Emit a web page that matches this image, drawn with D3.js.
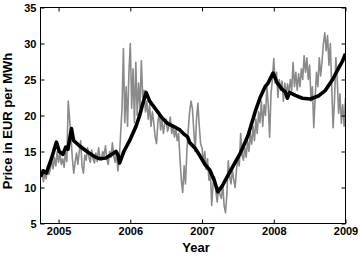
<!DOCTYPE html>
<html>
<head>
<meta charset="utf-8">
<script src="https://cdn.jsdelivr.net/npm/d3@7"></script>
<style>
  html, body { margin: 0; padding: 0; background: #fff; }
  svg text { font-family: "Liberation Sans", Arial, Helvetica, sans-serif; font-weight: bold; fill: #000; }
</style>
</head>
<body>
<svg id="chart" width="360" height="259"></svg>
<script>
// ---- data ----
const yearTicks = [2005, 2006, 2007, 2008, 2009];
const priceTicks = [5, 10, 15, 20, 25, 30, 35];
const xLabel = "Year";
const yLabel = "Price in EUR per MWh";

// weekly spot prices (grey), starting Oct 2004
const spotStart = 2004.75;
const spotStep = 1 / 52;
const spotPrices = [
  11.5, 12.5, 10.8, 12.0, 11.2, 13.0, 11.8, 12.5, 13.8, 12.6,
  14.2, 13.0, 15.0, 13.5, 14.8, 13.2, 14.0, 12.8, 15.0, 13.6,
  22.0, 19.5, 17.0, 14.0, 12.0, 13.5, 14.8, 13.2, 15.0, 16.5,
  13.0, 12.0, 14.5, 13.8, 15.5, 14.2, 13.5, 15.2, 14.0, 13.4,
  14.8, 13.6, 15.5, 14.2, 13.8, 15.0, 14.4, 15.8, 14.0, 13.2,
  15.0, 14.2, 16.2, 14.5, 13.5, 15.0, 12.3, 14.0, 17.5, 21.0,
  29.3, 19.0, 24.0, 18.5, 26.0, 30.0, 21.0, 26.5, 19.0, 27.4,
  20.0, 24.5, 21.0, 27.6, 22.5, 23.5, 20.5, 22.0, 19.5, 21.5,
  18.5, 20.5, 19.0, 17.0, 16.1, 19.0, 20.5, 18.0, 19.5, 17.5,
  18.8, 19.5, 17.8, 18.5, 19.8, 17.5, 18.5, 17.0, 18.2, 16.5,
  17.5, 14.0, 11.0, 9.3, 13.0, 10.5, 15.0, 18.0, 20.5, 22.0,
  21.0, 18.0, 15.0, 19.5, 21.7, 18.5, 16.0, 15.5, 13.5, 15.0,
  12.5, 14.0, 11.0, 12.5, 7.5, 10.5, 11.5, 9.5, 8.0, 10.0,
  9.0, 8.5, 10.5, 7.5, 6.5, 9.0, 13.7, 11.5, 10.5, 12.5,
  11.0, 10.0, 12.5, 14.0, 13.0, 17.5, 14.5, 13.8, 15.5, 14.2,
  16.5, 15.0, 17.5, 16.0, 18.5, 16.5, 19.5, 17.5, 20.5, 19.0,
  22.0, 18.5, 21.5, 20.0, 24.0, 21.5, 17.0, 23.0, 25.0, 27.9,
  24.5, 26.0, 22.5, 25.0, 23.5, 24.8, 22.0, 24.5, 23.0, 24.4,
  23.0, 25.0, 23.5, 27.4, 24.0, 26.0, 23.5, 25.8, 24.0, 26.5,
  25.0, 28.3, 26.0, 28.0, 25.0, 27.0, 22.0, 24.0, 18.3, 22.5,
  26.0, 24.0, 28.0, 25.5, 27.5, 30.0, 31.5, 29.0, 31.1, 27.0,
  30.0, 24.0, 18.3, 22.0, 28.0, 25.0, 20.3, 23.0, 18.9, 21.5,
  18.5, 22.5
];

// smoothed trend (black)
const trendYears = [
  2004.748, 2004.79, 2004.83, 2004.90, 2004.97, 2005.01, 2005.06, 2005.10, 2005.13, 2005.15,
  2005.18, 2005.21, 2005.29, 2005.41, 2005.50, 2005.57, 2005.66, 2005.74, 2005.80, 2005.83,
  2005.85, 2005.91, 2005.99, 2006.08, 2006.13, 2006.17, 2006.22, 2006.27, 2006.36, 2006.44,
  2006.52, 2006.62, 2006.69, 2006.75, 2006.80, 2006.83, 2006.90, 2006.97, 2007.04, 2007.11,
  2007.17, 2007.22, 2007.28, 2007.39, 2007.53, 2007.64, 2007.74, 2007.81, 2007.88, 2007.92,
  2007.99, 2008.05, 2008.12, 2008.16, 2008.19, 2008.22, 2008.30, 2008.40, 2008.51, 2008.62,
  2008.72, 2008.82, 2008.90, 2008.96, 2009.0
];
const trendValues = [
  11.5, 12.3, 12.0, 14.0, 16.3, 15.0, 14.6, 15.6, 15.3, 16.5,
  18.2, 16.5, 15.8, 14.9, 14.3, 14.0, 14.1, 14.6, 15.0, 14.5,
  13.4, 15.0, 16.5, 18.5, 20.0, 21.5, 23.2, 22.0, 20.8, 19.7,
  18.9, 18.4, 18.0, 17.4, 17.0, 16.2, 15.5, 14.4, 13.2, 12.4,
  11.0, 9.4, 10.2, 12.2, 14.7, 17.2, 20.5, 22.5, 24.0, 24.5,
  25.9, 24.5, 23.6, 23.3, 22.4, 23.2, 22.8, 22.4, 22.3, 22.7,
  23.5, 25.0, 26.5, 27.6, 28.6
];

// ---- drawing ----
const svg = d3.select("#chart");
const pLeft = 40.5, pRight = 345.5, pTop = 7.5, pBottom = 223.5;

const x = d3.scaleLinear().domain([2004.748, 2009]).range([pLeft, pRight]);
const y = d3.scaleLinear().domain([5, 35]).range([pBottom, pTop]);

const spot = spotPrices.map((v, i) => [spotStart + i * spotStep, v]);
const trend = trendYears.map((t, i) => [t, trendValues[i]]);

const line = d3.line().x(d => x(d[0])).y(d => y(d[1]));

svg.append("defs").append("clipPath").attr("id", "clip")
  .append("rect").attr("x", pLeft).attr("y", pTop).attr("width", pRight - pLeft).attr("height", pBottom - pTop);

const plot = svg.append("g").attr("clip-path", "url(#clip)");
plot.append("path").datum(spot).attr("d", line)
  .attr("fill", "none").attr("stroke", "#8a8a8a").attr("stroke-width", 1.6).attr("stroke-linejoin", "round");
plot.append("path").datum(trend).attr("d", line)
  .attr("fill", "none").attr("stroke", "#000").attr("stroke-width", 3.6).attr("stroke-linejoin", "round");

// axes
const fs = "11px";
const gB = svg.append("g").attr("transform", `translate(0,${pBottom})`)
  .call(d3.axisBottom(x).tickValues(yearTicks).tickFormat(d3.format("d")).tickSizeInner(-4).tickSizeOuter(0).tickPadding(4));
const gT = svg.append("g").attr("transform", `translate(0,${pTop})`)
  .call(d3.axisTop(x).tickValues(yearTicks).tickFormat("").tickSizeInner(-4).tickSizeOuter(0));
const gL = svg.append("g").attr("transform", `translate(${pLeft},0)`)
  .call(d3.axisLeft(y).tickValues(priceTicks).tickFormat(d3.format("d")).tickSizeInner(-4).tickSizeOuter(0).tickPadding(4));
const gR = svg.append("g").attr("transform", `translate(${pRight},0)`)
  .call(d3.axisRight(y).tickValues(priceTicks).tickFormat("").tickSizeInner(-4).tickSizeOuter(0));

[gB, gT, gL, gR].forEach(g => {
  g.select(".domain").remove();
  g.selectAll("line").attr("stroke", "#000");
  g.selectAll("text").style("font-size", fs).style("font-family", "'Liberation Sans', Arial, sans-serif").style("font-weight", "bold").attr("fill", "#000");
});

svg.append("rect").attr("x", pLeft).attr("y", pTop).attr("width", pRight - pLeft).attr("height", pBottom - pTop)
  .attr("fill", "none").attr("stroke", "#000").attr("stroke-width", 1);

svg.append("text").attr("x", 196).attr("y", 252)
  .attr("text-anchor", "middle").style("font-size", "13px").text(xLabel);

svg.append("text").attr("transform", `translate(12,121) rotate(-90)`)
  .attr("text-anchor", "middle").style("font-size", "13px").text(yLabel);
</script>
</body>
</html>
